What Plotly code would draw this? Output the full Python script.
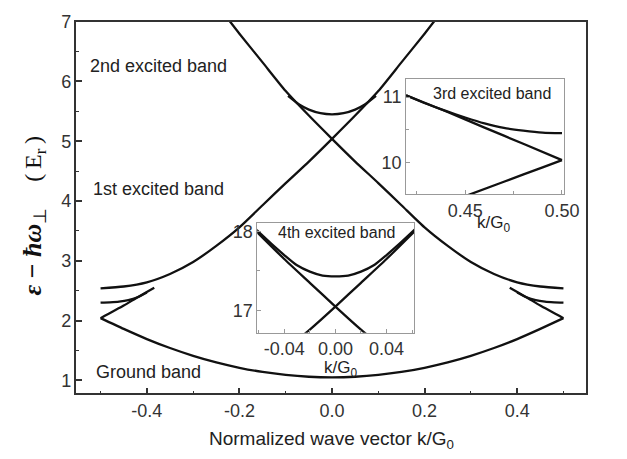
import plotly.graph_objects as go

# ---------------- data ----------------
# main panel: ground band
k_ground = [-0.5, -0.45, -0.4, -0.35, -0.3, -0.25, -0.2, -0.15, -0.1, -0.05, 0.0,
            0.05, 0.1, 0.15, 0.2, 0.25, 0.3, 0.35, 0.4, 0.45, 0.5]
E_ground = [2.04, 1.86, 1.69, 1.54, 1.41, 1.30, 1.21, 1.14, 1.09, 1.06, 1.05,
            1.06, 1.09, 1.14, 1.21, 1.30, 1.41, 1.54, 1.69, 1.86, 2.04]
# first excited band branch rising to the right (mirror branch below)
k_rise = [-0.5, -0.45, -0.4, -0.35, -0.3, -0.25, -0.2, -0.15, -0.1, -0.05, 0.0,
          0.05, 0.1, 0.15, 0.2, 0.222]
E_rise = [2.54, 2.57, 2.64, 2.78, 2.98, 3.25, 3.56, 3.93, 4.30, 4.66, 5.04,
          5.43, 5.84, 6.32, 6.80, 7.02]
k_fall = [0.5, 0.45, 0.4, 0.35, 0.3, 0.25, 0.2, 0.15, 0.1, 0.05, 0.0,
          -0.05, -0.1, -0.15, -0.2, -0.222]
E_fall = [2.54, 2.57, 2.64, 2.78, 2.98, 3.25, 3.56, 3.93, 4.30, 4.66, 5.04,
          5.43, 5.84, 6.32, 6.80, 7.02]
# short branches starting at the zone-edge cusps
k_stub_left = [-0.5, -0.45, -0.42, -0.384]
E_stub_left = [2.04, 2.25, 2.39, 2.55]
k_stub_right = [0.5, 0.45, 0.42, 0.384]
E_stub_right = [2.04, 2.25, 2.39, 2.55]
# middle branches at the zone edges
k_mid_left = [-0.5, -0.48, -0.46, -0.44, -0.42, -0.40]
E_mid_left = [2.30, 2.305, 2.315, 2.34, 2.39, 2.47]
k_mid_right = [0.5, 0.48, 0.46, 0.44, 0.42, 0.40]
E_mid_right = [2.30, 2.305, 2.315, 2.34, 2.39, 2.47]
# second excited band (gap curve above the crossing)
k_gap = [-0.095, -0.07, -0.05, -0.025, 0.0, 0.025, 0.05, 0.07, 0.095]
E_gap = [5.76, 5.61, 5.53, 5.47, 5.45, 5.47, 5.53, 5.61, 5.76]

# inset: 3rd excited band
k3_line = [0.4195, 0.44, 0.46, 0.48, 0.5]
E3_line = [11.03, 10.785, 10.535, 10.29, 10.04]
k3_curve = [0.4195, 0.43, 0.44, 0.45, 0.46, 0.47, 0.48, 0.49, 0.5]
E3_curve = [11.03, 10.90, 10.79, 10.69, 10.60, 10.53, 10.49, 10.46, 10.45]
k3_low = [0.45, 0.47, 0.49, 0.5]
E3_low = [9.49, 9.71, 9.93, 10.04]

# inset: 4th excited band
k4_a = [-0.062, -0.04, -0.02, 0.0, 0.02, 0.026]
E4_a = [18.00, 17.65, 17.35, 17.05, 16.76, 16.68]
k4_b = [0.062, 0.04, 0.02, 0.0, -0.02, -0.026]
E4_b = [18.00, 17.65, 17.35, 17.05, 16.76, 16.68]
k4_gap = [-0.062, -0.05, -0.04, -0.03, -0.02, -0.01, 0.0, 0.01, 0.02, 0.03, 0.04, 0.05, 0.062]
E4_gap = [18.02, 17.84, 17.70, 17.57, 17.49, 17.44, 17.43, 17.44, 17.49, 17.57, 17.70, 17.84, 18.02]

# tick labels
main_x_ticks = [-0.4, -0.2, 0.0, 0.2, 0.4]
main_x_labels = ["-0.4", "-0.2", "0.0", "0.2", "0.4"]
main_y_ticks = [1, 2, 3, 4, 5, 6, 7]
main_y_labels = ["1", "2", "3", "4", "5", "6", "7"]
in3_x_ticks = [0.45, 0.50]
in3_x_labels = ["0.45", "0.50"]
in3_y_ticks = [10, 11]
in3_y_labels = ["10", "11"]
in4_x_ticks = [-0.04, 0.0, 0.04]
in4_x_labels = ["-0.04", "0.00", "0.04"]
in4_y_ticks = [17, 18]
in4_y_labels = ["17", "18"]

# ---------------- figure ----------------
W, H = 627, 459
SANS = "Liberation Sans, Arial, sans-serif"
SERIF = "Liberation Serif, Times New Roman, serif"
LINE = dict(color="#111111", width=2.3)

fig = go.Figure()

def add(k, e, ax="x", ay="y"):
    fig.add_trace(go.Scatter(x=k, y=e, mode="lines", line=dict(LINE, shape="spline", smoothing=0.6),
                             xaxis=ax, yaxis=ay, showlegend=False, hoverinfo="skip"))

for k, e in [(k_ground, E_ground), (k_rise, E_rise), (k_fall, E_fall),
             (k_stub_left, E_stub_left), (k_stub_right, E_stub_right),
             (k_mid_left, E_mid_left), (k_mid_right, E_mid_right), (k_gap, E_gap)]:
    add(k, e)
for k, e in [(k3_line, E3_line), (k3_curve, E3_curve), (k3_low, E3_low)]:
    add(k, e, "x2", "y2")
for k, e in [(k4_a, E4_a), (k4_b, E4_b), (k4_gap, E4_gap)]:
    add(k, e, "x3", "y3")

def px(x):
    return x / W

def py(y):
    return 1 - y / H

main_ax = dict(showline=True, linecolor="#333333", linewidth=1.5, mirror=True,
               ticks="inside", ticklen=6, tickwidth=1.5, tickcolor="#333333",
               showgrid=False, zeroline=False,
               tickfont=dict(family=SANS, size=18, color="#333333"))
inset_ax = dict(showline=True, linecolor="#999999", linewidth=1, mirror=True,
                ticks="inside", ticklen=4, tickwidth=1, tickcolor="#999999",
                showgrid=False, zeroline=False,
                tickfont=dict(family=SANS, size=18, color="#333333"))

fig.update_layout(
    width=W, height=H, margin=dict(l=0, r=0, t=0, b=0),
    paper_bgcolor="white", plot_bgcolor="white",
    xaxis=dict(main_ax, domain=[px(78.5), px(601)], range=[-0.552, 0.548], anchor="y",
               tickvals=main_x_ticks, ticktext=main_x_labels,
               minor=dict(dtick=0.1, tick0=0, ticks="inside", ticklen=3, tickcolor="#333333", tickwidth=1.2)),
    yaxis=dict(main_ax, domain=[py(392), py(12)], range=[0.78, 7.0], anchor="x",
               tickvals=main_y_ticks, ticktext=main_y_labels,
               minor=dict(dtick=0.5, tick0=0, ticks="inside", ticklen=3, tickcolor="#333333", tickwidth=1.2)),
    xaxis2=dict(inset_ax, domain=[px(416.7), px(578.3)], range=[0.4195, 0.5008], anchor="y2",
                tickvals=in3_x_ticks, ticktext=in3_x_labels,
                minor=dict(dtick=0.025, tick0=0, ticks="inside", ticklen=3, tickcolor="#999999")),
    yaxis2=dict(inset_ax, domain=[py(188.3), py(71)], range=[9.52, 11.27], anchor="x2",
                tickvals=in3_y_ticks, ticktext=in3_y_labels,
                minor=dict(dtick=0.5, tick0=0, ticks="inside", ticklen=3, tickcolor="#999999")),
    xaxis3=dict(inset_ax, domain=[px(264), px(425)], range=[-0.0611, 0.0616], anchor="y3",
                tickvals=in4_x_ticks, ticktext=in4_x_labels,
                minor=dict(dtick=0.02, tick0=0, ticks="inside", ticklen=3, tickcolor="#999999")),
    yaxis3=dict(inset_ax, domain=[py(330), py(218)], range=[16.72, 18.1], anchor="x3",
                tickvals=in4_y_ticks, ticktext=in4_y_labels,
                minor=dict(dtick=0.5, tick0=0, ticks="inside", ticklen=3, tickcolor="#999999")),
)

ann = []
def note(text, x, y, size=18, xanchor="left", family=SANS, angle=0, color="#222222"):
    ann.append(dict(text=text, x=x, y=y, xref="paper", yref="paper", showarrow=False,
                    xanchor=xanchor, yanchor="middle", textangle=angle,
                    font=dict(family=family, size=size, color=color)))

note("2nd excited band", px(90), py(57))
note("1st excited band", px(93), py(183))
note("Ground band", px(96), py(370))
note("3rd excited band", px(505), py(85), size=16, xanchor="center")
note("4th excited band", px(345), py(227), size=16, xanchor="center")
note("k/G<sub>0</sub>", px(506), py(219), size=17, xanchor="center")
note("k/G<sub>0</sub>", px(349), py(367), size=17, xanchor="center")
note("Normalized wave vector k/G<sub>0</sub>", px(340), py(440), size=19, xanchor="center")
note("<b><i>ε</i> − <i>ħω</i></b><sub>⊥</sub>\u2003<span style=\"font-size:24px\">(\u2009E<sub>r</sub>\u2009)</span>",
     px(35), py(210), size=26, xanchor="center", family=SERIF, angle=-90, color="#111111")

fig.update_layout(annotations=ann)
fig.write_html("out.html")
